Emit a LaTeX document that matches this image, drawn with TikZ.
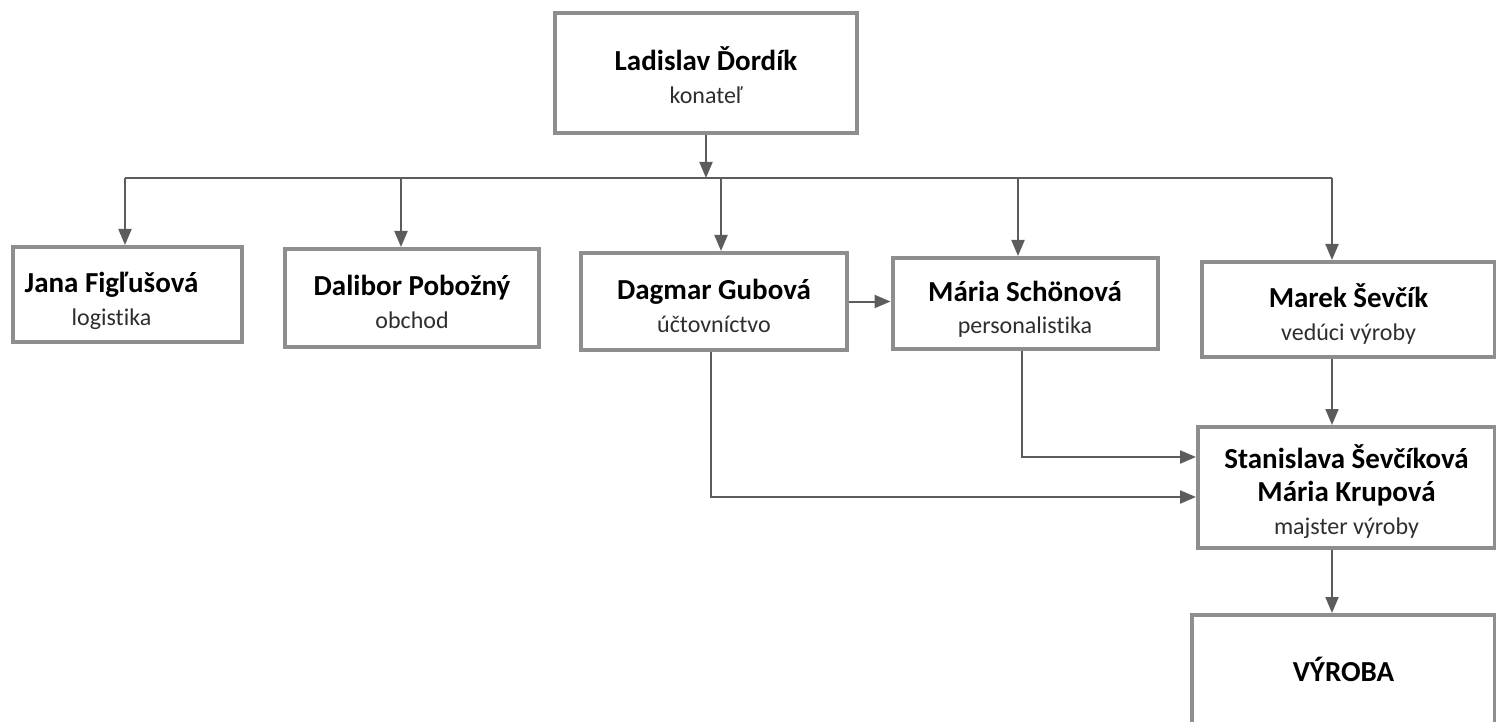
\documentclass[tikz,border=0pt]{standalone}
\usepackage{fontspec}
\setmainfont{Carlito}[Ligatures=NoCommon]
\usepackage{xcolor}
\usetikzlibrary{positioning,arrows.meta}

\definecolor{boxgray}{HTML}{8E8E8E}
\definecolor{wiregray}{HTML}{5C5C5C}
\definecolor{rolegray}{HTML}{2E2E2E}

\newcommand{\pname}[1]{{\fontsize{14.5}{16.5}\selectfont\bfseries #1}}
\newcommand{\prole}[1]{{\color{rolegray}#1}}
\newcommand{\upstrut}{\rule{0pt}{18pt}}
\newcommand{\dnstrut}{\rule[-4pt]{0pt}{4pt}}

\tikzset{
  person/.style={draw=boxgray, line width=2pt, fill=white, align=center,
    inner sep=0pt, font=\fontsize{12}{16.5}\selectfont},
  wire/.style={draw=wiregray, line width=1pt},
  tip/.style={-{Triangle[length=8pt,width=6.5pt]}}
}

\begin{document}
\begin{tikzpicture}[x=0.5pt, y=-0.5pt]

\useasboundingbox (0,0) rectangle (1496,722);

% ===========================
% Boxes
% ===========================
\node[person, minimum width=151pt, minimum height=60pt] (boss) at (706,73)
    {\upstrut\pname{Ladislav Ďordík}\\ \prole{konateľ}\dnstrut};

\node[person, minimum width=114.5pt, minimum height=47.5pt] (jana) at (127.5,294.5)
    {\upstrut\pname{Jana Figľušová}\hspace*{16pt}\\ \prole{logistika}\hspace*{16pt}\dnstrut};
\node[person, minimum width=127pt, minimum height=49pt] (dalibor) at (412,298)
    {\upstrut\pname{Dalibor Pobožný}\\ \prole{obchod}\dnstrut};
\node[person, minimum width=133pt, minimum height=48.5pt] (dagmar) at (714,301.5)
    {\upstrut\pname{Dagmar Gubová}\\ \prole{účtovníctvo}\dnstrut};
\node[person, minimum width=132.5pt, minimum height=45.5pt] (maria) at (1025,303.5)
    {\upstrut\pname{Mária Schönová}\\ \prole{personalistika}\dnstrut};
\node[person, minimum width=146.5pt, minimum height=47.5pt] (marek) at (1348.5,309.5)
    {\upstrut\pname{Marek Ševčík}\\ \prole{vedúci výroby}\dnstrut};

\node[person, minimum width=148.5pt, minimum height=60.5pt] (stan) at (1346.5,487.5)
    {\upstrut\pname{Stanislava Ševčíková}\\ \pname{Mária Krupová}\\ \prole{majster výroby}\dnstrut};
\node[person, minimum width=151.5pt, minimum height=60pt] (vyroba) at (1343.5,675)
    {\pname{VÝROBA}\rule[-6pt]{0pt}{6pt}};

% ===========================
% Connectors
% ===========================
\coordinate (busL) at (125,178);
\coordinate (busR) at (1332,178);

% Bus line and arrow from the top
\draw[wire] (busL) -- (busR);
\draw[wire, tip] (boss.south) -- (boss.south |- busL);

% Drops to the second row
\foreach \n/\x in {jana/125, dalibor/401, dagmar/721, maria/1018, marek/1332} {
    \coordinate (d\n) at (\x,178);
    \draw[wire, tip] (d\n) -- (d\n |- \n.north);
}

\draw[wire, tip] (dagmar.east) -- (dagmar.east -| maria.west);

% Right column
\coordinate (rcol) at (1332,0);
\draw[wire, tip] (marek.south -| rcol) -- (stan.north -| rcol);
\draw[wire, tip] (stan.south -| rcol) -- (vyroba.north -| rcol);

% Elbows into the production box
\coordinate (mdown) at (1022,457);
\coordinate (gdown) at (711,497);
\draw[wire, tip] (maria.south -| mdown) -- (mdown) -- (mdown -| stan.west);
\draw[wire, tip] (dagmar.south -| gdown) -- (gdown) -- (gdown -| stan.west);

\end{tikzpicture}
\end{document}
